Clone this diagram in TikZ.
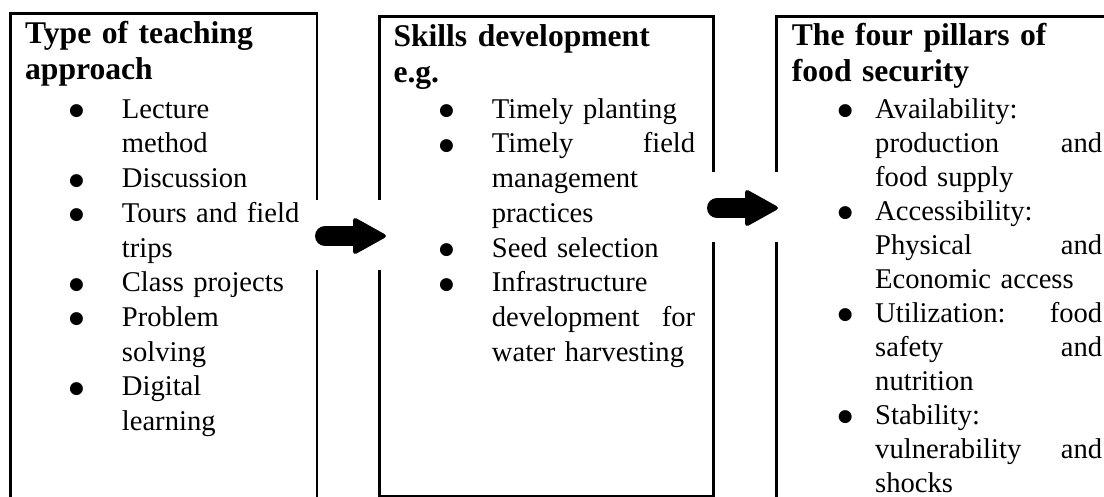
\documentclass[tikz,border=0pt]{standalone}
\usepackage{fontspec}
\setmainfont{Liberation Serif}
\newfontfamily\dotfont{DejaVu Sans}

% round bullet hanging left of the item text
\newlength{\bulgap}
\setlength{\bulgap}{38pt}
\newcommand{\bul}{\leavevmode\llap{\raisebox{2.5pt}{\dotfont\fontsize{17}{0}\selectfont ●}\hspace{\bulgap}}}

\begin{document}
\begin{tikzpicture}[x=1pt, y=-1pt,
  panel/.style={draw, line width=2.6pt},
  head/.style={anchor=base west, inner sep=0pt, align=left, text width=300pt,
    font=\fontsize{31.6}{36.5}\selectfont\bfseries},
  list/.style={anchor=base west, inner sep=0pt, align=left,
    font=\fontsize{28.6}{34.7}\selectfont},
  fatarrow/.pic={
    \fill[white] (-10,-36) rectangle (80,34);
    \draw[line width=20pt, line cap=round] (10,0) -- (40,0);
    \fill[rounded corners=4pt] (38,-19.5) -- (73,0) -- (38,19.5) -- cycle;
  }]
  \clip (0,0) rectangle (1104,497);

  % panels
  \draw[panel] (10.5,13.5) rectangle (317,530);
  \draw[panel] (379.5,16.5) rectangle (713.3,496);
  \draw[panel] (776.7,16.5) rectangle (1130,530);

  % teaching approach
  \node[head] (typehead) at (25,43.5) {Type of teaching\\approach};
  \node[list, text width=195pt] (typelist) at (121.7,118.3)
    {\bul Lecture\\ method\\ \bul Discussion\\ \bul Tours and field\\ trips\\
     \bul Class projects\\ \bul Problem\\ solving\\ \bul Digital\\ learning};

  % skills
  \node[head] (skillhead) at (393.3,46.5) {Skills development\\e.g.};
  \node[list, text width=203.3pt] (skilllist) at (491.7,118.3)
    {\bul Timely planting\\ \bul Timely \hfill field\\ management\\ practices\\
     \bul Seed selection\\ \bul Infrastructure\\ development \hfill for\\
     water harvesting};

  % food security
  \node[head] (pillarhead) at (791.7,45.5) {The four pillars of\\food security};
  \node[list, text width=227pt,
        font=\fontsize{28.6}{34}\selectfont\setlength{\bulgap}{22.5pt}]
        (pillarlist) at (875,118.3)
    {\bul Availability:\\ production \hfill and\\ food supply\\
     \bul Accessibility:\\ Physical \hfill and\\ Economic access\\
     \bul Utilization: \hfill food\\ safety \hfill and\\ nutrition\\
     \bul Stability:\\ vulnerability \hfill and\\ shocks};

  % arrows between the panels
  \coordinate (arrA) at (315,236);
  \coordinate (arrB) at (707,208);
  \pic at (arrA) {fatarrow};
  \pic at (arrB) {fatarrow};
\end{tikzpicture}
\end{document}
